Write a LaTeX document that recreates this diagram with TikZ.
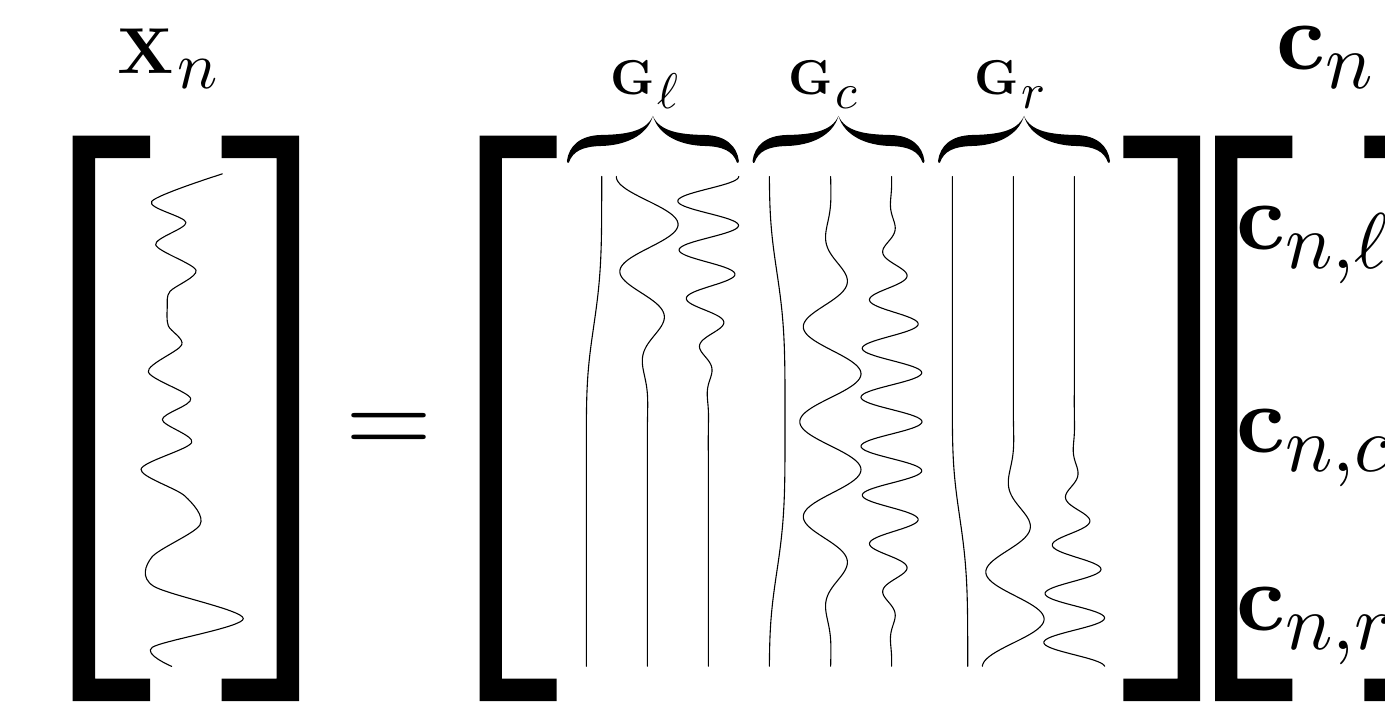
\documentclass[tikz,border=0pt]{standalone}
\usepackage{graphicx}
% one unit = 1pt; y grows downwards
\tikzset{
  wave/.style={line width=1.1pt, line join=round, line cap=round},
  lab/.style={inner sep=0pt, anchor=base west},
  declare function={atom(\u,\f)=exp(-84.3*\u*\u*\u*\u)*cos(360*\f*\u);},
}
% square brackets: thickness 22.4, from y=135.7 to y=701
\newcommand\lbrk[2]{% #1 outer x, #2 arm end x
  \fill (#1,135.7) -- (#2,135.7) -- (#2,158.1) -- (#1+22.4,158.1) -- (#1+22.4,678.6)
        -- (#2,678.6) -- (#2,701) -- (#1,701) -- cycle;}
\newcommand\rbrk[2]{% #1 arm start x, #2 outer x
  \fill (#2,135.7) -- (#1,135.7) -- (#1,158.1) -- (#2-22.4,158.1) -- (#2-22.4,678.6)
        -- (#1,678.6) -- (#1,701) -- (#2,701) -- cycle;}
% one basis atom drawn as a vertical trace: baseline x, centre t0, amplitude, frequency
\newcommand\atomline[4]{%
  \draw[wave] plot[domain=0:1, samples=400, variable=\q]
    ({#1+(#3)*atom(\q-(#2),#4)}, {176.5+490.5*\q});}
% half of a calligraphic over-brace, relative to its tip
\newcommand\bracehalf{%
  \fill (-86,161) .. controls (-84,146) and (-73,135.5) .. (-52,135)
        .. controls (-28,134.5) and (-7,132) .. (0,116)
        .. controls (-6,136) and (-28,145.5) .. (-52,146)
        .. controls (-70,146.5) and (-80,151) .. (-84,162.5)
        .. controls (-84.6,163.6) and (-86,163) .. cycle;}
\tikzset{topbrace/.pic={\bracehalf \begin{scope}[xscale=-1]\bracehalf\end{scope}}}
% scaled bold symbol followed by a lowered, separately scaled index
% #1 symbol scale, #2 symbol, #3 drop, #4 index scale, #5 index
\newcommand\sym[5]{\scalebox{#1}{$#2$}\lower#3\hbox{\scalebox{#4}{$#5$}}}

\begin{document}
\begin{tikzpicture}[x=1pt,y=-1pt]
\useasboundingbox (0,0) rectangle (1385,706);
\clip (0,0) rectangle (1385,706);

% ---- signal vector ----
\lbrk{72.7}{150}
\rbrk{221.7}{299}
\node[lab] (xlab) at (117,73.3) {\sym{6.5}{\mathbf{X}}{15pt}{6.7}{\kern0.6pt n}};
\draw[wave] plot[smooth] coordinates {
  (222.3,173.9) (151.7,201.4) (186.0,222.5) (155.7,244.7) (196.0,270.3)
  (170.0,291.4) (167.3,306.7) (168.3,325.8) (181.7,344.9) (148.3,371.7)
  (190.7,398.5) (162.3,419.6) (191.7,442.5) (141.0,469.3) (185.0,496.1)
  (200.0,524.8) (151.7,557.3) (153.3,586.0) (243.3,618.6) (152.3,647.3)
  (171.7,666.4)};

% ---- equals ----
\node[inner sep=0pt, anchor=base] (eq) at (389.2,454.7) {\scalebox{11.2}{$=$}};

% ---- dictionary matrix ----
\lbrk{479.5}{556.7}
\rbrk{1123.3}{1200}
\atomline{586.3}{0}{15.4}{0}
\atomline{647.3}{0}{-31}{5.1}
\atomline{708.3}{0}{30.5}{10}
\atomline{769.3}{0.5}{15.7}{0}
\atomline{830.5}{0.5}{-30.7}{5.1}
\atomline{891.5}{0.5}{30.5}{10}
\atomline{952.3}{1}{15.4}{0}
\atomline{1013.3}{1}{-31}{5.1}
\atomline{1074.3}{1}{30.5}{10}
\pic at (652.9,0) {topbrace};
\pic at (838.5,0) {topbrace};
\pic at (1024,0) {topbrace};
\node[lab] (gl) at (610.5,95) {\sym{4.9}{\mathbf{G}}{13.3pt}{5.0}{\kern0.5pt\ell}};
\node[lab] (gc) at (788.5,95) {\sym{4.9}{\mathbf{G}}{13.3pt}{5.0}{\kern0.5pt c}};
\node[lab] (gr) at (974,95)   {\sym{4.9}{\mathbf{G}}{13.3pt}{5.0}{\kern0.5pt r}};

% ---- coefficient vector ----
\lbrk{1215}{1292.3}
\rbrk{1364.3}{1441.6}
\node[lab] (cn) at (1276,69.5)    {\sym{9.6}{\mathbf{c}}{19pt}{7.9}{n}};
\node[lab] (cl) at (1236,249)     {\sym{9.6}{\mathbf{c}}{19pt}{7.9}{n{,}\ell}};
\node[lab] (cc) at (1236,452)     {\sym{9.6}{\mathbf{c}}{19pt}{7.9}{n{,}c}};
\node[lab] (cr) at (1236,630)     {\sym{9.6}{\mathbf{c}}{19pt}{7.9}{n{,}r}};
\end{tikzpicture}
\end{document}
